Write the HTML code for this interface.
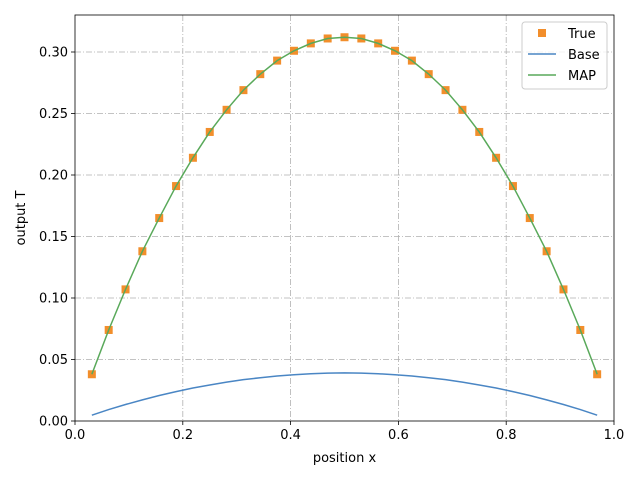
<!DOCTYPE html>
<html><head><meta charset="utf-8"><style>
body{margin:0;background:#fff;font-family:"Liberation Sans","DejaVu Sans",sans-serif;}
svg text{font-family:"DejaVu Sans","Liberation Sans",sans-serif;font-size:13px;fill:#000;}
</style></head><body>
<svg id="chart" width="640" height="480" xmlns="http://www.w3.org/2000/svg"></svg>
<script>
const xs=[0.03125,0.0625,0.09375,0.125,0.15625,0.1875,0.21875,0.25,0.28125,0.3125,0.34375,0.375,0.40625,0.4375,0.46875,0.5,0.53125,0.5625,0.59375,0.625,0.65625,0.6875,0.71875,0.75,0.78125,0.8125,0.84375,0.875,0.90625,0.9375,0.96875];
const trueT=[0.038,0.074,0.107,0.138,0.165,0.191,0.214,0.235,0.253,0.269,0.282,0.293,0.301,0.307,0.311,0.312,0.311,0.307,0.301,0.293,0.282,0.269,0.253,0.235,0.214,0.191,0.165,0.138,0.107,0.074,0.038];
const mapT=[0.038,0.074,0.107,0.138,0.165,0.191,0.214,0.235,0.253,0.269,0.282,0.293,0.301,0.307,0.311,0.312,0.311,0.307,0.301,0.293,0.282,0.269,0.253,0.235,0.214,0.191,0.165,0.138,0.107,0.074,0.038];
const baseT=[0.0047,0.0093,0.0134,0.0172,0.0207,0.0239,0.0268,0.0293,0.0316,0.0336,0.0352,0.0366,0.0376,0.0384,0.0389,0.0391,0.0389,0.0384,0.0376,0.0366,0.0352,0.0336,0.0316,0.0293,0.0268,0.0239,0.0207,0.0172,0.0134,0.0093,0.0047];
const xTicks=[0,0.2,0.4,0.6,0.8,1.0];
const xTickLabels=["0.0","0.2","0.4","0.6","0.8","1.0"];
const yTicks=[0,0.05,0.10,0.15,0.20,0.25,0.30];
const yTickLabels=["0.00","0.05","0.10","0.15","0.20","0.25","0.30"];
const L=75,R=614,T=15,B=421;
const X=v=>L+v*(R-L);
const Y=v=>B-v*(421-52)/0.30;
const svg=document.getElementById('chart');
const NS='http://www.w3.org/2000/svg';
function mk(tag,attrs,parent){const e=document.createElementNS(NS,tag);for(const k in attrs)e.setAttribute(k,attrs[k]);(parent||svg).appendChild(e);return e;}
const grid=mk('g',{});


xTicks.forEach((t,i)=>{
 if(i>0&&i<xTicks.length-1){const g=mk('line',{x1:X(t),x2:X(t),y1:T,y2:B,stroke:'#b0b0b0','stroke-width':0.8,'stroke-dasharray':'6,2,1,2'},grid);
 }
 const tk=mk('line',{x1:X(t),x2:X(t),y1:B,y2:B+4,stroke:'#000','stroke-width':0.8});
 
 const tx=mk('text',{x:X(t),y:B+18,'text-anchor':'middle'});tx.textContent=xTickLabels[i];
 
});
yTicks.forEach((t,i)=>{
 if(i>0){const g=mk('line',{x1:L,x2:R,y1:Y(t),y2:Y(t),stroke:'#b0b0b0','stroke-width':0.8,'stroke-dasharray':'6,2,1,2'},grid);
 }
 const tk=mk('line',{x1:L-4,x2:L,y1:Y(t),y2:Y(t),stroke:'#000','stroke-width':0.8});
 
 const tx=mk('text',{x:L-7,y:Y(t)+4.5,'text-anchor':'end'});tx.textContent=yTickLabels[i];
 
});
const base=mk('polyline',{points:xs.map((x,i)=>X(x)+','+Y(baseT[i])).join(' '),fill:'none',stroke:'#4a86c4','stroke-width':1.5});

xs.forEach((x,i)=>{const s=mk('rect',{x:X(x)-4,y:Y(trueT[i])-4,width:8,height:8,fill:'#f28e2b'});
 });
const map=mk('polyline',{points:xs.map((x,i)=>X(x)+','+Y(mapT[i])).join(' '),fill:'none',stroke:'#59a95a','stroke-width':1.5});

const frame=mk('rect',{x:L,y:T,width:R-L,height:B-T,fill:'none',stroke:'#000','stroke-width':0.8});

const xl=mk('text',{x:(L+R)/2,y:462,'text-anchor':'middle'});xl.textContent='position x';

const yl=mk('text',{x:25,y:(T+B)/2,'text-anchor':'middle',transform:'rotate(-90 25 '+((T+B)/2)+')'});yl.textContent='output T';

const lg=mk('g',{});

mk('rect',{x:522,y:22,width:85,height:67,rx:3,fill:'#fff','fill-opacity':0.8,stroke:'#ccc'},lg);
const e1=mk('rect',{x:538,y:29,width:8,height:8,fill:'#f28e2b'},lg);

const t1=mk('text',{x:568,y:38},lg);t1.textContent='True';

const e2=mk('line',{x1:528,x2:556,y1:54,y2:54,stroke:'#4a86c4','stroke-width':1.5},lg);

const t2=mk('text',{x:568,y:59},lg);t2.textContent='Base';

const e3=mk('line',{x1:528,x2:556,y1:75,y2:75,stroke:'#59a95a','stroke-width':1.5},lg);

const t3=mk('text',{x:568,y:80},lg);t3.textContent='MAP';

</script>
</body></html>
